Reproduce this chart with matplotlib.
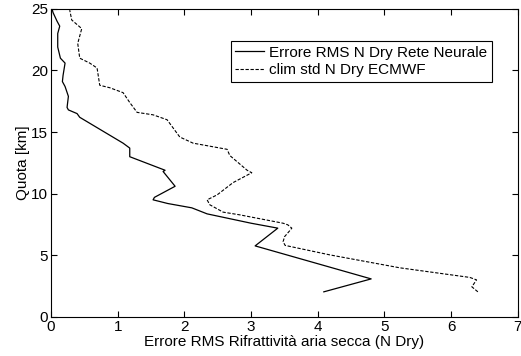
import numpy as np
import matplotlib
matplotlib.use('Agg')
import matplotlib.pyplot as plt

plt.rcParams['font.family'] = ['Liberation Sans', 'DejaVu Sans']

# Errore RMS N Dry Rete Neurale (x) vs quota (y)
rete_x = [4.09, 4.80, 3.06, 3.40, 3.0, 2.34, 2.11, 1.75, 1.53, 1.55, 1.86, 1.68, 1.71,
          1.18, 1.18, 1.08, 0.43, 0.39, 0.26, 0.24, 0.26, 0.21, 0.17, 0.18,
          0.21, 0.14, 0.10, 0.10, 0.13, 0.09, 0.03, 0.02]
rete_y = [2.03, 3.08, 5.76, 7.2, 7.6, 8.36, 8.85, 9.2, 9.5, 9.7, 10.6, 11.8, 11.9,
          13.0, 13.7, 14.1, 16.2, 16.5, 16.8, 17.0, 17.9, 18.7, 19.1, 19.6,
          20.6, 21.0, 21.9, 23.0, 23.6, 24.0, 24.7, 24.9]

# clim std N Dry ECMWF
clim_x = [6.40, 6.31, 6.38, 6.28, 5.23, 4.18, 3.51, 3.48, 3.50, 3.58, 3.61,
          3.55, 3.48, 2.83, 2.58, 2.38, 2.34, 2.49, 2.73, 3.01, 2.94, 2.68,
          2.64, 2.13, 1.93, 1.74, 1.53, 1.29, 1.18, 1.08, 0.88, 0.73, 0.69,
          0.58, 0.43, 0.40, 0.46, 0.31, 0.28]
clim_y = [2.03, 2.44, 3.0, 3.2, 3.98, 5.03, 5.8, 6.1, 6.5, 7.0, 7.2,
          7.47, 7.6, 8.28, 8.5, 9.1, 9.5, 9.9, 10.9, 11.7, 11.9, 13.1,
          13.6, 14.1, 14.6, 16.0, 16.4, 16.6, 17.4, 18.2, 18.6, 18.8, 20.2,
          20.6, 21.0, 22.2, 23.4, 24.1, 24.9]

fig = plt.figure(figsize=(5.21, 3.56), dpi=100)
ax = fig.add_axes([0.098, 0.11, 0.896, 0.865])

ax.plot(rete_x, rete_y, color='k', lw=0.9, label='Errore RMS N Dry Rete Neurale')
ax.plot(clim_x, clim_y, color='k', lw=0.8, ls=(0, (3, 1.5)), label='clim std N Dry ECMWF')

ax.set_xlim(0, 7)
ax.set_ylim(0, 25)
ax.set_xticks(range(8))
ax.set_yticks([0, 5, 10, 15, 20, 25])
ax.tick_params(direction='in', top=True, right=True, labelsize=11, length=4, pad=2)
ax.set_xlabel('Errore RMS Rifrattività aria secca (N Dry)', fontsize=11, labelpad=1)
ax.set_ylabel('Quota [km]', fontsize=11, labelpad=1)

leg = ax.legend(loc='upper right', bbox_to_anchor=(0.944, 0.896), fontsize=11,
                fancybox=False, framealpha=1, edgecolor='k', borderpad=0.3,
                handlelength=1.9, handletextpad=0.3, labelspacing=0.25, borderaxespad=0)
leg.get_frame().set_linewidth(0.8)

fig.savefig('out.png', dpi=100)
